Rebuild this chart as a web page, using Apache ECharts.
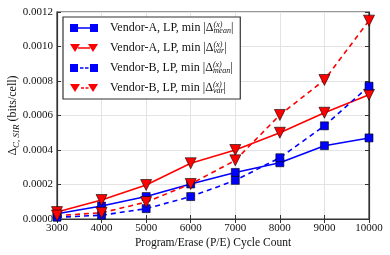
<!DOCTYPE html>
<html><head><meta charset="utf-8">
<script src="https://cdn.jsdelivr.net/npm/echarts@6/dist/echarts.min.js"></script>
<style>html,body{margin:0;padding:0;background:#fff}#c{width:390px;height:255px}</style>
</head><body><div id="c"></div>
<script>
var cycles = [3000, 4000, 5000, 6000, 7000, 8000, 9000, 10000];
var vendorA_mean = [0.00003, 0.000075, 0.00013, 0.000203, 0.00027, 0.000326, 0.000425, 0.00047];
var vendorA_var  = [0.00004, 0.00011, 0.000197, 0.000323, 0.0004, 0.0005, 0.000616, 0.00072];
var vendorB_mean = [0.00001, 0.000022, 0.00006, 0.00013, 0.000224, 0.000355, 0.00054, 0.00077];
var vendorB_var  = [0.00002, 0.000036, 0.000098, 0.000203, 0.00034, 0.000603, 0.000806, 0.00115];
var yTicks = [0, 0.0002, 0.0004, 0.0006, 0.0008, 0.0010, 0.0012];
var seriesNames = ['Vendor-A, LP, min |Δ{sup|(x)}{sub|mean}|', 'Vendor-A, LP, min |Δ{sup|(x)}{sub|var}|',
                   'Vendor-B, LP, min |Δ{sup|(x)}{sub|mean}|', 'Vendor-B, LP, min |Δ{sup|(x)}{sub|var}|'];

var FONT = '"Liberation Serif", "DejaVu Serif", serif';
var BLUE = '#0000ff', RED = '#ff0000';

function pairs(vals){ return cycles.map(function(c,i){ return [c, vals[i]]; }); }

var iconSqSolid = 'path://M0,1h8v8h-8Z M8,4.3h12v1.4h-12Z M20,1h8v8h-8Z';
var iconTriSolid = 'path://M0,1h10l-5,8Z M8,4.3h12v1.4h-12Z M18,1h10l-5,8Z';
var iconSqDash = 'path://M0,1h8v8h-8Z M10,4.3h3.5v1.4h-3.5Z M15,4.3h3.5v1.4h-3.5Z M20,1h8v8h-8Z';
var iconTriDash = 'path://M0,1h10l-5,8Z M11,4.3h3v1.4h-3Z M15.5,4.3h3v1.4h-3Z M18,1h10l-5,8Z';

function mk(name, data, color, symbol, dashed){
  return {
    name: name, type: 'line', data: pairs(data),
    symbol: symbol, symbolSize: symbol === 'rect' ? 8 : 11,
    symbolRotate: symbol === 'triangle' ? 180 : 0,
    lineStyle: {color: color, width: 1.6, type: dashed ? [5, 4] : 'solid'},
    itemStyle: {color: color, borderColor: '#000', borderWidth: 0.6},
    showSymbol: true, animation: false, z: 3
  };
}

var chart = echarts.init(document.getElementById('c'), null, {renderer: 'canvas'});
chart.setOption({
  animation: false,
  grid: {left: 57, right: 21, top: 12, bottom: 36, containLabel: false, outerBoundsMode: 'none',
    show: true, borderColor: '#333', borderWidth: 1.2, backgroundColor: 'transparent'},
  xAxis: [{
    type: 'value', min: 3000, max: 10000, interval: 1000,
    name: 'Program/Erase (P/E) Cycle Count', nameLocation: 'middle', nameGap: 18, nameMoveOverlap: false,
    nameTextStyle: {fontFamily: FONT, fontSize: 11.5, color: '#111'},
    axisLine: {show: true, lineStyle: {color: '#333', width: 1.2}},
    axisTick: {show: true, inside: true, length: 4, lineStyle: {color: '#333'}},
    axisLabel: {fontFamily: FONT, fontSize: 11, color: '#111', margin: 4,
      formatter: function(v){ return String(v); }},
    splitLine: {show: true, lineStyle: {color: '#e3e3e3', width: 1}}
  }, {
    type: 'value', position: 'top', min: 3000, max: 10000, interval: 1000,
    axisLine: {show: true, lineStyle: {color: '#333', width: 1.2}},
    axisTick: {show: true, inside: true, length: 4, lineStyle: {color: '#333'}},
    axisLabel: {show: false}, splitLine: {show: false}
  }],
  yAxis: [{
    type: 'value', min: 0, max: 0.0012, interval: 0.0002,
    name: '{d|Δ}{s|C, SIR}{d| (bits/cell)}', nameLocation: 'middle', nameGap: 36, nameMoveOverlap: false,
    nameTextStyle: {fontFamily: FONT, fontSize: 12, color: '#111',
      rich: {d: {fontFamily: FONT, fontSize: 12, color: '#111', lineHeight: 16},
             s: {fontFamily: FONT, fontSize: 9, fontStyle: 'italic', color: '#111', verticalAlign: 'bottom', lineHeight: 10}}},
    axisLine: {show: true, lineStyle: {color: '#333', width: 1.2}},
    axisTick: {show: true, inside: true, length: 4, lineStyle: {color: '#333'}},
    axisLabel: {fontFamily: FONT, fontSize: 11, color: '#111', margin: 4,
      formatter: function(v){ return v.toFixed(4); }},
    splitLine: {show: true, lineStyle: {color: '#e3e3e3', width: 1}}
  }, {
    type: 'value', position: 'right', min: 0, max: 0.0012, interval: 0.0002,
    axisLine: {show: true, lineStyle: {color: '#333', width: 1.2}},
    axisTick: {show: true, inside: true, length: 4, lineStyle: {color: '#333'}},
    axisLabel: {show: false}, splitLine: {show: false}
  }],
  legend: {
    orient: 'vertical', left: 63, top: 17,
    padding: [4, 7, 4, 7], itemGap: 6, itemWidth: 28, itemHeight: 10,
    backgroundColor: '#fff', borderColor: '#333', borderWidth: 1.2, borderRadius: 0,
    itemStyle: {borderWidth: 0},
    data: [
      {name: seriesNames[0], icon: iconSqSolid},
      {name: seriesNames[1], icon: iconTriSolid},
      {name: seriesNames[2], icon: iconSqDash},
      {name: seriesNames[3], icon: iconTriDash}
    ],
    textStyle: {fontFamily: FONT, fontSize: 12, color: '#111', lineHeight: 14, padding: [0, 0, 0, 7],
      rich: {
        sup: {fontFamily: FONT, fontSize: 8, fontStyle: 'italic', color: '#111', verticalAlign: 'top', lineHeight: 8, width: 0.01},
        sub: {fontFamily: FONT, fontSize: 8, fontStyle: 'italic', color: '#111', verticalAlign: 'bottom', lineHeight: 8}
      }},
    formatter: function(n){ return n; }
  },
  series: [
    mk(seriesNames[0], vendorA_mean, BLUE, 'rect', false),
    mk(seriesNames[1], vendorA_var, RED, 'triangle', false),
    mk(seriesNames[2], vendorB_mean, BLUE, 'rect', true),
    mk(seriesNames[3], vendorB_var, RED, 'triangle', true)
  ]
});
</script></body></html>
